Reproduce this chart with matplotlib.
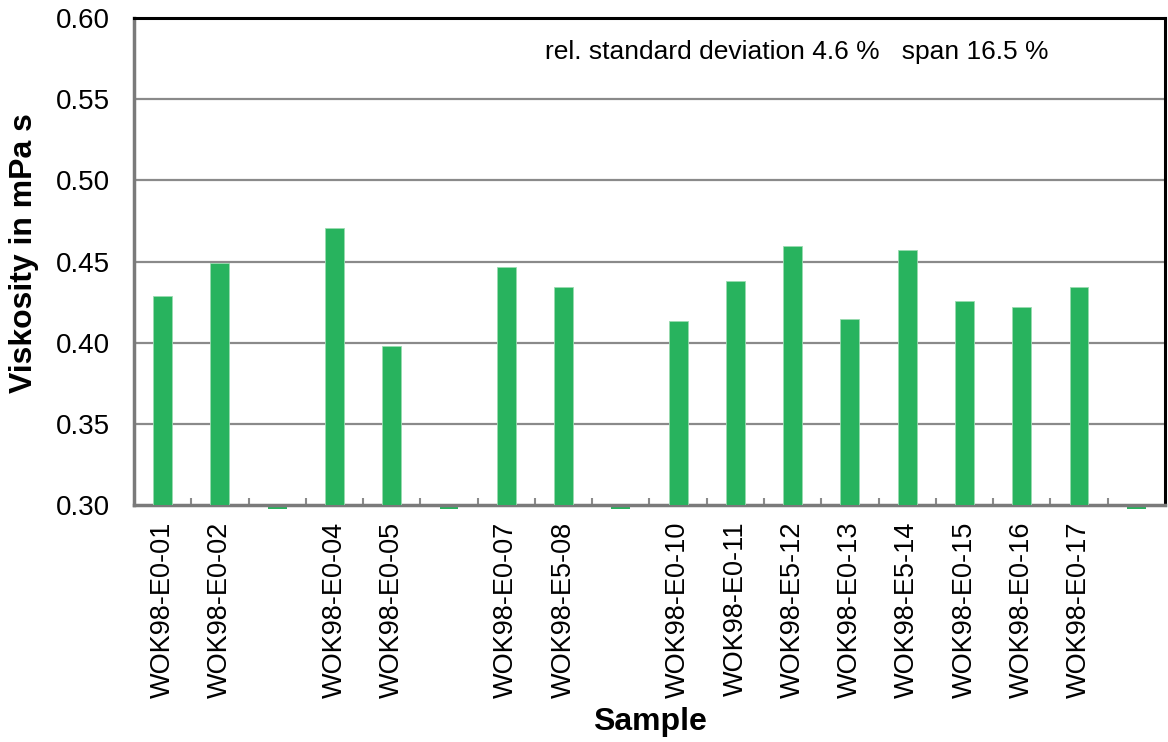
import numpy as np
import matplotlib
matplotlib.use('Agg')
import matplotlib.pyplot as plt
from matplotlib.ticker import FixedLocator

plt.rcParams['font.family'] = ['Liberation Sans', 'DejaVu Sans']

# Data (None = no measurement)
samples = ['WOK98-E0-01', 'WOK98-E0-02', '', 'WOK98-E0-04', 'WOK98-E0-05', '',
           'WOK98-E0-07', 'WOK98-E5-08', '', 'WOK98-E0-10', 'WOK98-E0-11',
           'WOK98-E5-12', 'WOK98-E0-13', 'WOK98-E5-14', 'WOK98-E0-15',
           'WOK98-E0-16', 'WOK98-E0-17', '']
viscosity = [0.429, 0.4488, None, 0.4706, 0.398, None,
             0.4465, 0.4344, None, 0.4136, 0.4377,
             0.4597, 0.4148, 0.4568, 0.4255,
             0.422, 0.4341, None]
y_ticks = [0.30, 0.35, 0.40, 0.45, 0.50, 0.55, 0.60]
note = 'rel. standard deviation 4.6 %   span 16.5 %'

green = '#28B35E'
grid_gray = '#8A8A8A'

fig = plt.figure(figsize=(11.68, 7.42), dpi=100)
ax = fig.add_axes([0.1147, 0.3194, 0.8827, 0.6563])

x = np.arange(len(samples))
vals = np.array([np.nan if v is None else v for v in viscosity])
have = ~np.isnan(vals)
base = y_ticks[0]

ax.bar(x[have], vals[have] - base, bottom=base, width=0.33,
       color=green, edgecolor='#9ADBB0', linewidth=0.6, zorder=3)
# empty samples: thin green mark just below the axis
ax.bar(x[~have], -0.0018, bottom=base - 0.0009, width=0.33,
       color=green, linewidth=0, clip_on=False, zorder=1)

ax.set_xlim(-0.5, len(samples) - 0.5)
ax.set_ylim(y_ticks[0], y_ticks[-1])
ax.set_yticks(y_ticks)
ax.set_yticklabels([f'{t:.2f}' for t in y_ticks], fontsize=20)
ax.tick_params(axis='y', length=0, pad=17)

ax.set_xticks(x)
ax.set_xticklabels(samples, rotation=90, fontsize=19.5)
ax.tick_params(axis='x', which='major', length=0, pad=12)
ax.xaxis.set_minor_locator(FixedLocator(x[:-1] + 0.5))
ax.tick_params(axis='x', which='minor', direction='in', length=5,
               width=1.5, color=grid_gray)

# horizontal gridlines
for t in y_ticks[1:-1]:
    ax.axhline(t, color=grid_gray, linewidth=1.6, zorder=1)

for side in ['left', 'bottom']:
    ax.spines[side].set_color('#7A7A7A')
    ax.spines[side].set_linewidth(2.5)
for side in ['top', 'right']:
    ax.spines[side].set_color('black')
    ax.spines[side].set_linewidth(2.2)

# axis titles placed in figure pixels
fig.text(24 / 1168, 1 - 253 / 742, 'Viskosity in mPa s', fontsize=23,
         fontweight='bold', rotation=90, ha='center', va='center')
fig.text(650 / 1168, 1 - 722 / 742, 'Sample', fontsize=23,
         fontweight='bold', ha='center', va='center')

ax.text(0.643, 0.930, note, transform=ax.transAxes, fontsize=19,
        ha='center', va='center')

fig.savefig('out.png', dpi=100)
